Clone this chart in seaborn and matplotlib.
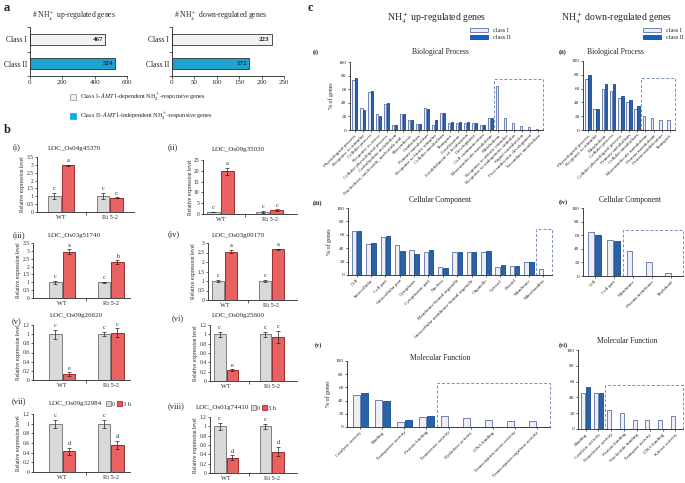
import numpy as np
import pandas as pd
import matplotlib
matplotlib.use('Agg')
import matplotlib.pyplot as plt
import seaborn as sns
from matplotlib.patches import Rectangle, Patch

sns.set_style('ticks')
plt.rcParams['font.family'] = ['Liberation Serif', 'DejaVu Serif']
plt.rcParams['mathtext.fontset'] = 'stix'
plt.rcParams['axes.linewidth'] = 0.6
plt.rcParams['xtick.major.width'] = 0.5
plt.rcParams['ytick.major.width'] = 0.5

# ---------------- data: panel a ----------------
a_classes = ['Class I', 'Class II']
a_up = [467, 524]
a_down = [223, 172]

# ---------------- data: panel b ----------------
genotypes = ['WT', 'Ri 5-2']
times = ['0', '3 h']
b_genes = ['LOC_Os04g45370', 'LOC_Os09g35030', 'LOC_Os03g51740', 'LOC_Os03g09170',
           'LOC_Os09g26620', 'LOC_Os09g25600', 'LOC_Os09g32984', 'LOC_Os01g74410']
b_ctrl = [[1.0, 1.0], [1.0, 1.0], [1.0, 1.0], [1.0, 1.0],
          [1.0, 1.0], [1.0, 1.0], [1.0, 1.0], [1.0, 1.0]]
b_ctrl_err = [[0.2, 0.2], [0.1, 0.5], [0.1, 0.05], [0.07, 0.05],
              [0.1, 0.05], [0.05, 0.05], [0.08, 0.08], [0.07, 0.05]]
b_trt = [[2.97, 0.9], [19.7, 1.8], [2.95, 2.28], [2.55, 2.68],
         [0.13, 1.03], [0.23, 0.94], [0.43, 0.56], [0.33, 0.46]]
b_trt_err = [[0.03, 0.03], [1.8, 0.3], [0.15, 0.12], [0.1, 0.03],
             [0.04, 0.1], [0.02, 0.13], [0.07, 0.08], [0.05, 0.1]]
b_letters = [['c', 'a', 'c', 'c'], ['c', 'a', 'c', 'c'], ['c', 'a', 'c', 'b'], ['c', 'a', 'c', 'a'],
             ['c', 'e', 'c', 'c'], ['c', 'e', 'c', 'c'], ['c', 'd', 'c', 'd'], ['c', 'd', 'c', 'd']]
b_ymax = [3.5, 25, 3.5, 3, 1.2, 1.2, 1.2, 1.2]
b_ystep = [0.5, 5, 0.5, 0.5, 0.2, 0.2, 0.2, 0.2]
b_tags = ['(i)', '(ii)', '(iii)', '(iv)', '(v)', '(vi)', '(vii)', '(viii)']

# ---------------- data: panel c ----------------
bp_up_cats = ['Physiological process', 'Response to stimulus', 'Cellular process', 'Response to stress',
              'Cellular physiological process', 'Carbohydrate metabolism',
              'Nucleobase, nucleoside, nucleotide and...', 'Biosynthesis', 'Catabolism',
              'Primary metabolism', 'Response to biotic stimulus', 'Cellular metabolism', 'Transport',
              'Localization', 'Establishment of localization', 'Development', 'Cell communication',
              'Macromolecule metabolism', 'Metabolism', 'Response to abiotic stimulus',
              'Response to endogenous stimulus', 'Signal transduction', 'Post-embryonic development',
              'Secondary metabolism']
bp_up_c1 = [73, 32, 56, 23, 38, 7, 23, 14, 9, 32, 7, 25, 10, 11, 11, 11, 8, 17, 64, 17, 10, 6, 5, 1]
bp_up_c2 = [76, 29, 57, 20, 39, 8, 24, 14, 9, 31, 15, 25, 12, 12, 12, 11, 8, 17,
            np.nan, np.nan, np.nan, np.nan, np.nan, np.nan]

bp_dn_cats = ['Physiological process', 'Response to stimulus', 'Metabolism', 'Cellular process',
              'Cellular physiological process', 'Primary metabolism', 'Cellular metabolism',
              'Macromolecule metabolism', 'Protein metabolism', 'Protein modification', 'Transport']
bp_dn_c1 = [74, 31, 60, 56, 47, 41, 31, 21, 18, 15, 14]
bp_dn_c2 = [80, 30, 66, 66, 50, 43, 35, np.nan, np.nan, np.nan, np.nan]

cc_up_cats = ['Cell', 'Intracellular', 'Cell part', 'Intracellular part', 'Cytoplasm',
              'Cytoplasmic part', 'Nucleus', 'Membrane-bound organelle',
              'Intracellular membrane-bound organelle', 'Organelle', 'Cytosol', 'Plastid',
              'Membrane', 'Mitochondria']
cc_up_c1 = [66, 46, 57, 45, 37, 35, 12, 34, 34, 35, 12, 13, 19, 9]
cc_up_c2 = [65, 48, 58, 36, 31, 38, 11, 35, 35, 36, 15, 13, 20, np.nan]

cc_dn_cats = ['Cell', 'Cell part', 'Membrane', 'Plasma membrane', 'Thylakoid']
cc_dn_c1 = [65, 53, 37, 20, 5]
cc_dn_c2 = [60, 52, np.nan, np.nan, np.nan]

mf_up_cats = ['Catalytic activity', 'Binding', 'Transporter activity', 'Protein binding',
              'Transferase activity', 'Hydrolase activity', 'DNA binding',
              'Transcription factor activity', 'Transcription regulator activity']
mf_up_c1 = [49, 41, 7, 15, 16, 14, 11, 9, 9]
mf_up_c2 = [52, 40, 10, 16, np.nan, np.nan, np.nan, np.nan, np.nan]

mf_dn_cats = ['Binding', 'Catalytic activity', 'Transferase activity', 'Protein binding',
              'Nucleotide binding', 'Transport activity', 'DNA binding', 'Kinase activity']
mf_dn_c1 = [46, 45, 24, 20, 12, 12, 11, 17]
mf_dn_c2 = [53, 46, np.nan, np.nan, np.nan, np.nan, np.nan, np.nan]

# ---------------- figure ----------------
W, H = 685, 483
fig = plt.figure(figsize=(6.85, 4.83), dpi=100)


def axpx(l, t, r, b):
    return fig.add_axes([l / W, 1 - b / H, (r - l) / W, (b - t) / H])


def ftext(x, y, s, **kw):
    kw.setdefault('va', 'center')
    fig.text(x / W, 1 - y / H, s, **kw)


# ---------- panel a ----------
ftext(4, 8, 'a', fontsize=9, fontweight='bold')
a_pal = {'Class I': '#f2f2f2', 'Class II': '#00b0f0'}
for (l, t, r, b), vals, xmax, xstep, title in [((30, 27, 127, 76), a_up, 600, 200, '# NH$_4^+$ up-regulated genes'),
                                                ((172, 27, 284, 76), a_down, 250, 50, '# NH$_4^+$ down-regulated genes')]:
    ax = axpx(l, t, r, b)
    dfa = pd.DataFrame({'cls': a_classes, 'n': vals})
    sns.barplot(data=dfa, x='n', y='cls', hue='cls', palette=a_pal, orient='h', width=0.45,
                edgecolor='#333333', linewidth=0.6, legend=False, ax=ax)
    ax.set_xlim(0, xmax)
    ax.set_xticks(np.arange(0, xmax + 1, xstep))
    ax.set_xlabel('')
    ax.set_ylabel('')
    ax.tick_params(axis='x', labelsize=5, length=2, pad=1)
    ax.tick_params(axis='y', labelsize=5.5, length=0, pad=2)
    ax.set_yticks([-0.5, 0.5, 1.5], minor=True)
    ax.tick_params(axis='y', which='minor', length=2, width=0.5)
    for s in ['top', 'right']:
        ax.spines[s].set_visible(False)
    for i, v in enumerate(vals):
        ax.text(v - xmax * 0.02, i, str(v), ha='right', va='center', fontsize=5, fontweight='bold')
    ftext(l + 2, 16, title, fontsize=5.5, ha='left')

fig.patches.append(Rectangle((70 / W, 1 - 100 / H), 6 / W, 6 / H, transform=fig.transFigure,
                             facecolor='#f2f2f2', edgecolor='#888888', lw=0.5))
ftext(80, 97, r'Class I- $\mathit{AMT1}$-dependent NH$_4^+$-responsive genes', fontsize=4.5, ha='left')
fig.patches.append(Rectangle((70 / W, 1 - 119 / H), 6 / W, 6 / H, transform=fig.transFigure,
                             facecolor='#00b0f0', edgecolor='#00b0f0', lw=0.5))
ftext(80, 116, r'Class II- $\mathit{AMT1}$-independent NH$_4^+$-responsive genes', fontsize=4.5, ha='left')

# ---------- panel b ----------
ftext(4, 130, 'b', fontsize=9, fontweight='bold')
b_boxes = [(37, 157, 134, 212), (203, 160, 297, 214), (33, 243, 130, 298), (208, 243, 297, 300),
           (33, 325, 130, 380), (210, 325, 297, 381), (33, 414, 130, 472), (210, 417, 297, 473)]
b_xlims = [(-0.5, 1.5), (-0.35, 1.55), (-0.6, 1.4), (-0.35, 1.55),
           (-0.6, 1.4), (-0.35, 1.55), (-0.6, 1.4), (-0.35, 1.55)]
b_tagpos = [(13, 147), (168, 147), (13, 235), (168, 234), (12, 322), (172, 318), (12, 401), (168, 406)]
b_title_xy = [(74, 148), (238, 150), (74, 235), (238, 236), (76, 315), (238, 315), (75, 404), (223, 408)]
b_pal = {'0': '#d9d9d9', '3 h': '#ff4b4b'}
for k in range(8):
    l, t, r, b = b_boxes[k]
    ax = axpx(l, t, r, b)
    rows = []
    for g in range(2):
        rows.append((genotypes[g], '0', b_ctrl[k][g]))
        rows.append((genotypes[g], '3 h', b_trt[k][g]))
    dfb = pd.DataFrame(rows, columns=['geno', 'time', 'val'])
    sns.barplot(data=dfb, x='geno', y='val', hue='time', order=genotypes, hue_order=times,
                palette=b_pal, width=0.56, gap=0.08, errorbar=None, legend=False, linewidth=0.6, ax=ax)
    edge = ['#6e6e6e', '#8b1a1a']
    means = [b_ctrl[k], b_trt[k]]
    errs = [b_ctrl_err[k], b_trt_err[k]]
    ymax = b_ymax[k]
    bar_conts = list(ax.containers)
    for ci, cont in enumerate(bar_conts):
        xs = []
        for p in cont:
            p.set_edgecolor(edge[ci])
            xs.append(p.get_x() + p.get_width() / 2)
        ax.errorbar(xs, means[ci], yerr=errs[ci], fmt='none', ecolor='#222222', elinewidth=0.5,
                    capsize=1.3, capthick=0.5)
        for g in range(2):
            letter = b_letters[k][g * 2 + ci]
            ax.text(xs[g], means[ci][g] + errs[ci][g] + ymax * 0.03, letter, ha='center', va='bottom',
                    fontsize=4.5)
    ax.set_ylim(0, ymax)
    ax.set_xlim(*b_xlims[k])
    ax.set_yticks(np.arange(0, ymax + 1e-9, b_ystep[k]))
    ax.set_yticklabels([('%g' % v) for v in np.arange(0, ymax + 1e-9, b_ystep[k])])
    ax.set_xlabel('')
    ax.set_ylabel('Relative expression level', fontsize=4, labelpad=1)
    ax.tick_params(axis='y', labelsize=4, length=1.5, pad=1)
    ax.tick_params(axis='x', labelsize=4.5, length=0, pad=2)
    ax.set_xticks([0.5], minor=True)
    ax.tick_params(axis='x', which='minor', length=2, width=0.5)
    for s in ['top', 'right']:
        ax.spines[s].set_visible(False)
    ftext(b_title_xy[k][0], b_title_xy[k][1], b_genes[k], fontsize=5, ha='center')
    ftext(b_tagpos[k][0], b_tagpos[k][1], b_tags[k], fontsize=6, ha='left')
    if k >= 6:
        handles = [Patch(facecolor=b_pal['0'], edgecolor=edge[0], lw=0.5),
                   Patch(facecolor=b_pal['3 h'], edgecolor=edge[1], lw=0.5)]
        lx = 103 if k == 6 else 248
        fig.legend(handles, times, loc='center left',
                   bbox_to_anchor=(lx / W, 1 - b_title_xy[k][1] / H), ncol=2, frameon=False,
                   fontsize=4.5, handlelength=0.7, handleheight=0.7, handletextpad=0.2,
                   columnspacing=0.4, borderpad=0)

# ---------- panel c ----------
ftext(308, 8, 'c', fontsize=9, fontweight='bold')
ftext(437, 18, 'NH$_4^+$ up-regulated genes', fontsize=7, ha='center')
ftext(617, 18, 'NH$_4^+$ down-regulated genes', fontsize=7, ha='center')
c_pal = {'class I': '#eceef6', 'class II': '#1560bd'}
c_edge = ['#5b6ea8', '#174a92']
for lx in [(467, 28), (640, 28)]:
    handles = [Patch(facecolor=c_pal['class I'], edgecolor=c_edge[0], lw=0.6),
               Patch(facecolor=c_pal['class II'], edgecolor=c_edge[1], lw=0.6)]
    fig.legend(handles, ['class I', 'class II'], loc='upper left',
               bbox_to_anchor=(lx[0] / W, 1 - (lx[1] - 3) / H), frameon=False, fontsize=4.5,
               handlelength=2.8, handleheight=0.6, handletextpad=0.8, labelspacing=0.3, borderpad=0)


def go_panel(box, cats, c1, c2, box_from, box_top, title, title_xy, tag, tag_xy, ylabel):
    l, t, r, b = box
    ax = axpx(l, t, r, b)
    rows = []
    for i, c in enumerate(cats):
        rows.append((c, 'class I', c1[i]))
        if not np.isnan(c2[i]):
            rows.append((c, 'class II', c2[i]))
    df = pd.DataFrame(rows, columns=['cat', 'cls', 'val'])
    sns.barplot(data=df, x='cat', y='val', hue='cls', order=cats, hue_order=['class I', 'class II'],
                palette=c_pal, width=0.72, gap=0.15, errorbar=None, legend=False, linewidth=0.6, ax=ax)
    for ci, cont in enumerate(list(ax.containers)):
        for p in cont:
            if p is not None:
                p.set_edgecolor(c_edge[ci])
    n = len(cats)
    ax.set_ylim(0, 100)
    ax.set_xlim(-0.6, n - 0.4)
    ax.set_yticks(np.arange(0, 101, 20))
    ax.tick_params(axis='y', labelsize=3.8, length=1.5, pad=1)
    ax.tick_params(axis='x', labelsize=3.6, length=1.5, pad=1)
    ax.set_xticks(range(n))
    ax.set_xticklabels(cats, rotation=45, ha='right', rotation_mode='anchor')
    ax.set_xlabel('')
    if ylabel:
        ax.set_ylabel('% of genes', fontsize=4.2, labelpad=3)
    else:
        ax.set_ylabel('')
    for s in ['top', 'right']:
        ax.spines[s].set_visible(False)
    ax.add_patch(Rectangle((box_from - 0.5, 0), n - 0.4 - (box_from - 0.5), box_top, fill=False,
                           ls=(0, (3, 2)), ec='#7b8fc4', lw=0.7, clip_on=False))
    ftext(title_xy[0], title_xy[1], title, fontsize=5.5, ha='center')
    ftext(tag_xy[0], tag_xy[1], tag, fontsize=4.5, ha='left', fontweight='bold')


go_panel((350, 62, 543, 130), bp_up_cats, bp_up_c1, bp_up_c2, 18, 75, 'Biological Process', (440, 52),
         '(i)', (313, 52), True)
go_panel((583, 61, 675, 130), bp_dn_cats, bp_dn_c1, bp_dn_c2, 7, 75, 'Biological Process', (615, 52),
         '(ii)', (559, 52), False)
go_panel((348, 208, 552, 275), cc_up_cats, cc_up_c1, cc_up_c2, 13, 68, 'Cellular Component', (440, 200),
         '(iii)', (313, 203), True)
go_panel((583, 208, 683, 276), cc_dn_cats, cc_dn_c1, cc_dn_c2, 2, 68, 'Cellular Component', (630, 200),
         '(iv)', (559, 202), False)
go_panel((347, 361, 550, 427), mf_up_cats, mf_up_c1, mf_up_c2, 4, 67, 'Molecular Function', (440, 358),
         '(v)', (315, 345), True)
go_panel((578, 350, 683, 429), mf_dn_cats, mf_dn_c1, mf_dn_c2, 2, 56, 'Molecular Function', (627, 341),
         '(vi)', (559, 345), False)

fig.savefig('out.png', dpi=100)
